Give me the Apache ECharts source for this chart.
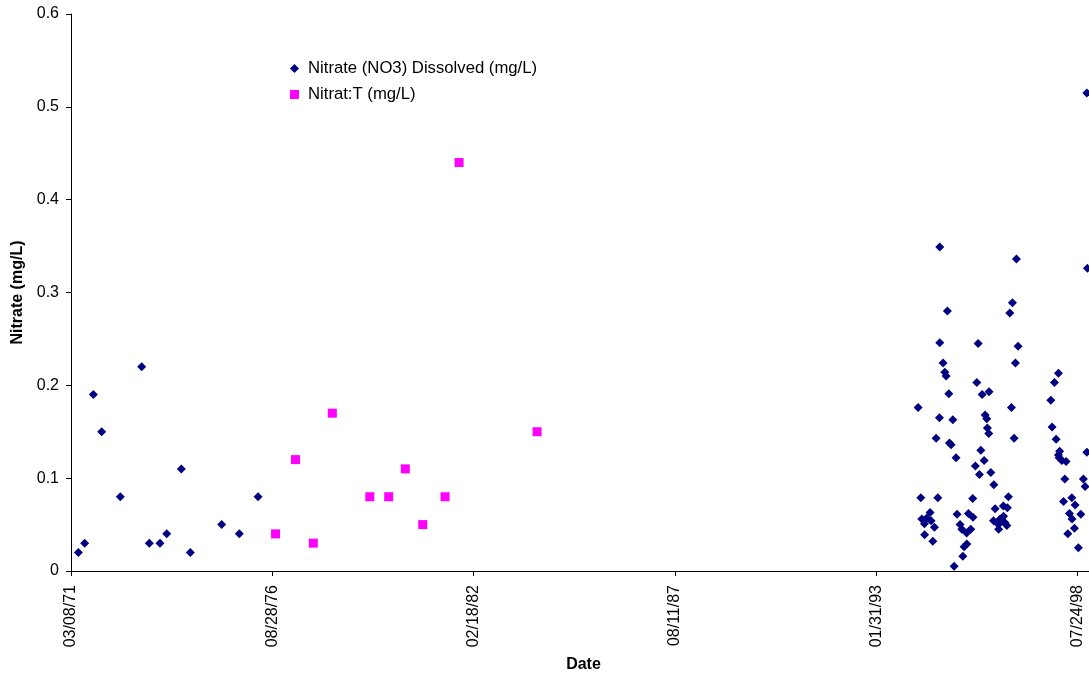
<!DOCTYPE html>
<html>
<head>
<meta charset="utf-8">
<title>Nitrate (mg/L)</title>
<script src="https://cdn.jsdelivr.net/npm/echarts@6/dist/echarts.min.js"></script>
<style>
  html, body { margin: 0; padding: 0; background: #ffffff; }
  #chart { width: 1089px; height: 677px; }
</style>
</head>
<body>
<div id="chart"></div>
<script>
// Sample dates are spreadsheet day numbers (1 = 1900-01-01, 25569 = 1970-01-01).
const dissolvedDays = [
  26073, 26136, 26222, 26305, 26490, 26702, 26778, 26884, 26951, 27096,
  27185, 27497, 27672, 27858,
  34415, 34442, 34452, 34478, 34480, 34501, 34534, 34544, 34561, 34577,
  34594, 34611, 34627, 34630, 34630, 34663, 34680, 34693, 34706, 34720,
  34726, 34743, 34760, 34773, 34792, 34802, 34832, 34849, 34859, 34872,
  34899, 34897, 34915, 34938, 34958, 34960, 34984, 34998, 35011, 35024,
  35038, 35051, 35071, 35081, 35097, 35103, 35117, 35120, 35137, 35167,
  35164, 35180, 35213, 35215, 35230, 35262, 35264, 35279, 35296, 35302,
  35312, 35326, 35342, 35352, 35369, 35382, 35392, 35408,
  35733, 35746, 35769, 35786, 35809, 35821, 35816, 35843, 35885, 35809,
  35872, 35859, 35942, 35975, 35918, 35944, 35968, 35902, 36007, 36031,
  36057, 36074, 36091, 36091, 36097
];
const dissolvedNitrate = [
  0.02, 0.03, 0.19, 0.15, 0.08, 0.22, 0.03, 0.03, 0.04, 0.11,
  0.02, 0.05, 0.04, 0.08,
  0.176, 0.079, 0.056, 0.051, 0.039, 0.057, 0.063, 0.054, 0.032, 0.047,
  0.143, 0.079, 0.165, 0.349, 0.246, 0.224, 0.214, 0.210, 0.280, 0.191,
  0.138, 0.136, 0.163, 0.005, 0.122, 0.061, 0.050, 0.045, 0.016, 0.026,
  0.029, 0.041, 0.062, 0.045, 0.078, 0.058, 0.113, 0.203, 0.245, 0.104,
  0.130, 0.190, 0.119, 0.168, 0.164, 0.154, 0.148, 0.193, 0.106, 0.093,
  0.054, 0.067, 0.050, 0.045, 0.056, 0.070, 0.059, 0.052, 0.049, 0.068,
  0.080, 0.278, 0.176, 0.289, 0.143, 0.224, 0.336, 0.242,
  0.184, 0.155, 0.203, 0.142, 0.213, 0.129, 0.122, 0.119, 0.118, 0.125,
  0.099, 0.075, 0.079, 0.071, 0.062, 0.056, 0.046, 0.040, 0.025, 0.061,
  0.099, 0.091, 0.128, 0.515, 0.326
];

const totalDays = [
  28032, 28230, 28407, 28596, 28968, 29156, 29321, 29494, 29716, 29855, 30630
];
const totalNitrate = [
  0.04, 0.12, 0.03, 0.17, 0.08, 0.08, 0.11, 0.05, 0.08, 0.44, 0.15
];

const seriesNames = ['Nitrate (NO3) Dissolved (mg/L)', 'Nitrat:T (mg/L)'];
const axisTitles = { x: 'Date', y: 'Nitrate (mg/L)' };

const FONT = 'Liberation Sans, Arial, Helvetica, sans-serif';

function pairs(xs, ys) {
  return xs.map((x, i) => [x, ys[i]]);
}

function dayToLabel(day) {
  const d = new Date((day - 25569) * 86400000);
  const mm = String(d.getUTCMonth() + 1).padStart(2, '0');
  const dd = String(d.getUTCDate()).padStart(2, '0');
  const yy = String(d.getUTCFullYear() % 100).padStart(2, '0');
  return mm + '/' + dd + '/' + yy;
}

const chart = echarts.init(document.getElementById('chart'), null, { renderer: 'canvas' });

chart.setOption({
  backgroundColor: '#ffffff',
  animation: false,
  textStyle: { fontFamily: FONT },
  // the date axis runs on past the right edge of the page
  grid: {
    left: 71, top: 14, bottom: 106, right: -190,
    containLabel: false,
    outerBoundsMode: 'none'
  },
  legend: {
    orient: 'vertical',
    left: 285,
    top: 55,
    itemWidth: 9,
    itemHeight: 9,
    itemGap: 9,
    textStyle: { fontFamily: FONT, fontSize: 16.7, color: '#000000', padding: [0, 0, 0, 4] },
    data: [
      { name: seriesNames[0], icon: 'diamond' },
      { name: seriesNames[1], icon: 'rect' }
    ]
  },
  xAxis: {
    type: 'value',
    min: 26000,
    max: 38000,
    interval: 2000,
    name: axisTitles.x,
    nameLocation: 'middle',
    nameGap: 86,
    // keep the title centred under the visible part of the axis
    nameTextStyle: {
      fontFamily: FONT, fontSize: 16, fontWeight: 'bold', color: '#000000',
      padding: [0, 183, 0, 0]
    },
    axisLine: { show: true, onZero: false, lineStyle: { color: '#000000', width: 1 } },
    axisTick: { show: true, inside: false, length: 5, lineStyle: { color: '#000000' } },
    axisLabel: {
      rotate: 90,
      margin: 14,
      fontFamily: FONT,
      fontSize: 16,
      color: '#000000',
      formatter: (v) => dayToLabel(v)
    },
    splitLine: { show: false }
  },
  yAxis: {
    type: 'value',
    min: 0,
    max: 0.6,
    interval: 0.1,
    name: axisTitles.y,
    nameLocation: 'middle',
    nameGap: 45,
    nameTextStyle: { fontFamily: FONT, fontSize: 16, fontWeight: 'bold', color: '#000000' },
    axisLine: { show: true, lineStyle: { color: '#000000', width: 1 } },
    axisTick: { show: true, inside: false, length: 5, lineStyle: { color: '#000000' } },
    axisLabel: {
      margin: 12,
      fontFamily: FONT,
      fontSize: 16,
      color: '#000000',
      formatter: (v) => String(Math.round(v * 10) / 10)
    },
    splitLine: { show: false }
  },
  series: [
    {
      name: seriesNames[0],
      type: 'scatter',
      symbol: 'diamond',
      symbolSize: 9,
      itemStyle: { color: '#000080', opacity: 1 },
      data: pairs(dissolvedDays, dissolvedNitrate),
      z: 3
    },
    {
      name: seriesNames[1],
      type: 'scatter',
      symbol: 'rect',
      symbolSize: 9,
      itemStyle: { color: '#ff00ff', opacity: 1 },
      data: pairs(totalDays, totalNitrate),
      z: 2
    }
  ]
});
</script>
</body>
</html>
